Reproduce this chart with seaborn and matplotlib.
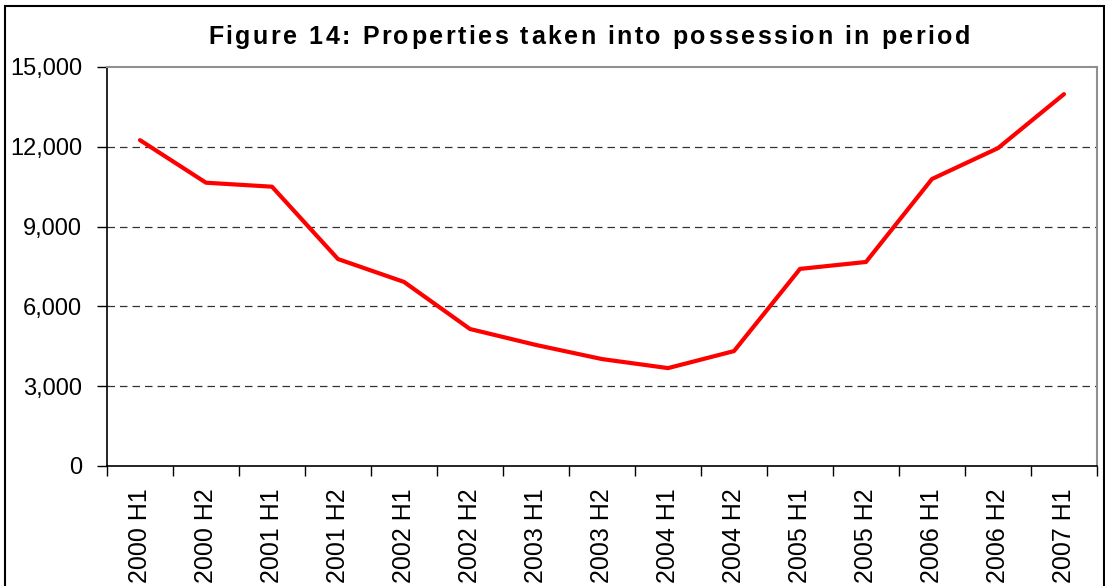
import matplotlib
matplotlib.use("Agg")
import matplotlib.pyplot as plt
from matplotlib.ticker import FuncFormatter, FixedLocator
from matplotlib.patches import Rectangle
from matplotlib.font_manager import FontProperties
import seaborn as sns
import pandas as pd
import numpy as np

periods = ["2000 H1", "2000 H2", "2001 H1", "2001 H2", "2002 H1", "2002 H2",
           "2003 H1", "2003 H2", "2004 H1", "2004 H2", "2005 H1", "2005 H2",
           "2006 H1", "2006 H2", "2007 H1"]
possessions = [12250, 10650, 10500, 7780, 6920, 5150, 4550, 4020, 3680,
               4320, 7410, 7670, 10790, 11950, 13980]
yticks = [0, 3000, 6000, 9000, 12000, 15000]
title = "Figure 14: Properties taken into possession in period"

df = pd.DataFrame({"period": periods, "possessions": possessions})

sns.set_style("white")
plt.rcParams["font.family"] = ["Liberation Sans", "DejaVu Sans"]

W, H = 1105, 586
fig = plt.figure(figsize=(W / 100, H / 100), dpi=100)
ax = fig.add_axes([107 / W, 1 - 466 / H, 990 / W, 399 / H])

sns.lineplot(data=df, x="period", y="possessions", color="#ff0000",
             linewidth=3, ax=ax, sort=False)

ax.set_xlim(-0.5, len(periods) - 0.5)
ax.set_ylim(0, 15000)
ax.set_yticks(yticks)
ax.yaxis.set_major_formatter(FuncFormatter(lambda v, p: f"{int(v):,}"))
ax.set_xticks(range(len(periods)))
ax.set_xticklabels(periods, rotation=90)
ax.xaxis.set_minor_locator(FixedLocator(np.arange(-0.5, len(periods), 1.0)))
ax.tick_params(axis="x", which="major", length=0, pad=16, labelsize=18, labelcolor="black")
ax.tick_params(axis="x", which="minor", length=7, width=1, color="black", direction="out", bottom=True)
ax.tick_params(axis="y", length=7, width=1, color="black", direction="out", left=True,
               labelsize=17, pad=11, labelcolor="black")
ax.set_xlabel("")
ax.set_ylabel("")

for v in yticks[1:-1]:
    ax.axhline(v, color="#333333", linestyle=(0, (6, 4)), linewidth=0.9, zorder=0)

for side in ["left", "bottom"]:
    ax.spines[side].set_color("black")
    ax.spines[side].set_linewidth(1.2)
for side in ["top", "right"]:
    ax.spines[side].set_color("#909090")
    ax.spines[side].set_linewidth(1.5)

# letter-spaced bold title, laid out character by character
fp = FontProperties(family="Liberation Sans", weight="bold", size=18)
renderer = fig.canvas.get_renderer()
aa = renderer.get_text_width_height_descent("aa", fp, ismath=False)[0]
widths = []
for c in title:
    if c == " ":
        widths.append(renderer.get_text_width_height_descent("a a", fp, ismath=False)[0] - aa)
    else:
        widths.append(renderer.get_text_width_height_descent(c, fp, ismath=False)[0])
left_px, right_px = 208, 970
spacing = (right_px - left_px - sum(widths)) / (len(title) - 1)
x = left_px
for c, w in zip(title, widths):
    fig.text(x / W, 1 - 37 / H, c, ha="left", va="center", fontproperties=fp, color="black")
    x += w + spacing

fig.patches.append(Rectangle((5 / W, -0.05), 1099 / W, 1.05 - 6 / H,
                             transform=fig.transFigure, fill=False,
                             edgecolor="black", linewidth=1.5))

fig.savefig("out.png", dpi=100)
